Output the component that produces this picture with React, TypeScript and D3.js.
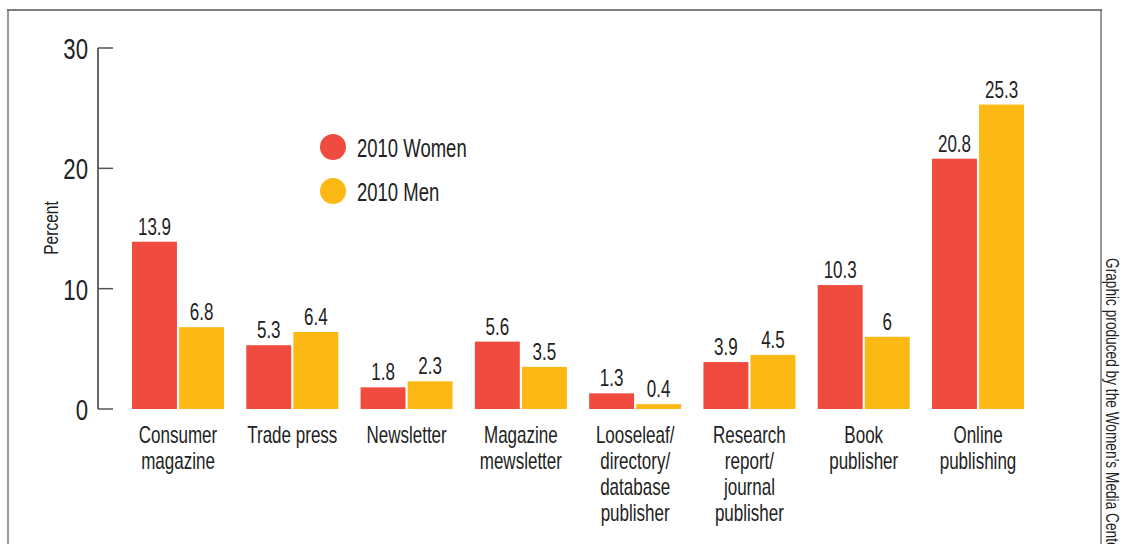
import React from "react";
import * as d3 from "d3";

const categories: string[][] = [
  ["Consumer", "magazine"],
  ["Trade press"],
  ["Newsletter"],
  ["Magazine", "mewsletter"],
  ["Looseleaf/", "directory/", "database", "publisher"],
  ["Research", "report/", "journal", "publisher"],
  ["Book", "publisher"],
  ["Online", "publishing"],
];
const women: number[] = [13.9, 5.3, 1.8, 5.6, 1.3, 3.9, 10.3, 20.8];
const men: number[] = [6.8, 6.4, 2.3, 3.5, 0.4, 4.5, 6, 25.3];
const womenLabels: string[] = ["13.9", "5.3", "1.8", "5.6", "1.3", "3.9", "10.3", "20.8"];
const menLabels: string[] = ["6.8", "6.4", "2.3", "3.5", "0.4", "4.5", "6", "25.3"];
const yTicks: number[] = [0, 10, 20, 30];
const seriesNames: string[] = ["2010 Women", "2010 Men"];

const RED = "#EF4B3E";
const YELLOW = "#FDB913";
const FONT = "'Liberation Sans', Arial, sans-serif";
const SX = 0.74;

function T(props: { x: number; y: number; size: number; anchor?: string; rotate?: number; children: React.ReactNode; fill?: string }) {
  const { x, y, size, anchor = "start", rotate = 0, children, fill = "#222" } = props;
  return (
    <g transform={`translate(${x},${y}) rotate(${rotate})`}>
      <text transform={`scale(${SX},1)`} textAnchor={anchor as any} fontSize={size} fill={fill}>{children}</text>
    </g>
  );
}

export default function App() {
  const W = 1126, H = 544;
  const y = d3.scaleLinear().domain([0, 30]).range([409, 48]);
  const x0 = d3.scaleBand<number>().domain(d3.range(categories.length)).range([132, 1024]).paddingInner(0.195).paddingOuter(0);
  const x1 = d3.scaleBand<number>().domain([0, 1]).range([0, x0.bandwidth()]).paddingInner(0.045);
  const series = [
    { vals: women, labels: womenLabels, color: RED },
    { vals: men, labels: menLabels, color: YELLOW },
  ];
  return (
    <svg width={W} height={H} style={{ position: "absolute", left: 0, top: 0, background: "#fff" }} fontFamily={FONT}>
      {/* frame */}
      <line x1={8} x2={8} y1={10} y2={544} stroke="#999" strokeWidth={2} />
      <line x1={1101} x2={1101} y1={10} y2={544} stroke="#777" strokeWidth={1.5} />
      <line x1={7} x2={1102} y1={10} y2={10} stroke="#555" strokeWidth={1.5} />
      {/* y axis */}
      <line x1={98} x2={98} y1={y(30)} y2={y(0)} stroke="#333" strokeWidth={1.5} />
      {yTicks.map((t) => (
        <g key={t}>
          <line x1={98} x2={113} y1={y(t)} y2={y(t)} stroke="#555" strokeWidth={1.5} />
          <T x={88} y={y(t) + 11} size={30} anchor="end">{t}</T>
        </g>
      ))}
      <T x={58} y={228} size={21} anchor="middle" rotate={-90}>Percent</T>
      {/* bars */}
      {categories.map((c, i) => (
        <g key={i} transform={`translate(${x0(i)},0)`}>
          {series.map((s, j) => (
            <g key={j}>
              <rect x={x1(j)} y={y(s.vals[i])} width={x1.bandwidth()} height={y(0) - y(s.vals[i])} fill={s.color} />
              <T x={(x1(j) as number) + x1.bandwidth() / 2} y={y(s.vals[i]) - 7} size={23} anchor="middle">{s.labels[i]}</T>
            </g>
          ))}
          {c.map((line, k) => (
            <T key={k} x={x0.bandwidth() / 2} y={443 + k * 26} size={23} anchor="middle">{line}</T>
          ))}
        </g>
      ))}
      {/* legend */}
      {seriesNames.map((n, j) => (
        <g key={n} transform={`translate(333,${147 + j * 44})`}>
          <circle r={13} fill={series[j].color} />
          <T x={24} y={10} size={25}>{n}</T>
        </g>
      ))}
      <T x={1106} y={258} size={18.5} rotate={90}>Graphic produced by the Women’s Media Center</T>
    </svg>
  );
}
